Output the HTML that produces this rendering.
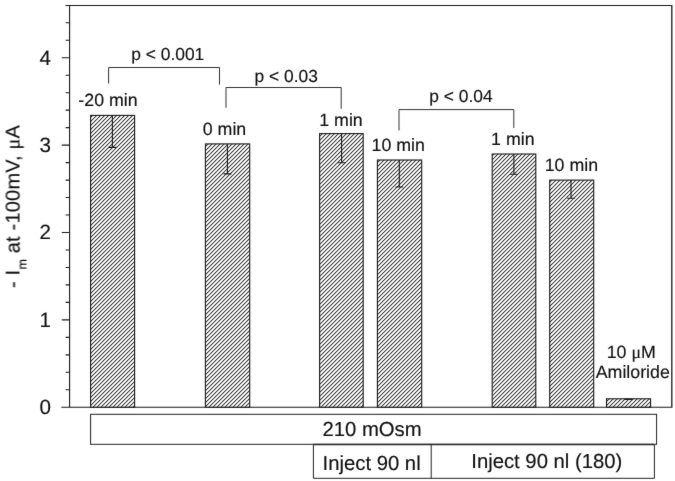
<!DOCTYPE html>
<html>
<head>
<meta charset="utf-8">
<style>
html,body{margin:0;padding:0;background:#fff;}
body{width:675px;height:481px;overflow:hidden;}
svg{display:block;filter:grayscale(1);}
text{text-rendering:geometricPrecision;font-family:"Liberation Sans",sans-serif;fill:#111;stroke:#111;stroke-width:0.15px;}
.t20{font-size:20px;}
.t18{font-size:17.8px;}
.ax{stroke:#1a1a1a;stroke-width:1.1;fill:none;}
.tk{stroke:#1a1a1a;stroke-width:1.1;fill:none;}
.br{stroke:#333;stroke-width:1;fill:none;}
.bar{fill:url(#h);stroke:#1a1a1a;stroke-width:1.1;}
.eb{stroke:#1a1a1a;stroke-width:1.1;fill:none;}
.bx{fill:#fff;stroke:#222;stroke-width:1;}
</style>
</head>
<body>
<svg width="675" height="481" viewBox="0 0 675 481">
<defs>
<pattern id="h" patternUnits="userSpaceOnUse" width="4" height="4">
<rect width="4" height="4" fill="#fff"/>
<path d="M0.50,-1 L1.70,-1 L-1,1.70 L-1,0.50 Z M4.50,-1 L5.70,-1 L-1,5.70 L-1,4.50 Z M8.50,-1 L9.70,-1 L-1,9.70 L-1,8.50 Z" fill="#1a1a1a" stroke="none"/>
</pattern>
<filter id="bl" color-interpolation-filters="sRGB" x="0" y="0" width="675" height="481" filterUnits="userSpaceOnUse"><feConvolveMatrix order="3" kernelMatrix="0.012 0.05 0.012 0.05 0.752 0.05 0.012 0.05 0.012" edgeMode="duplicate" preserveAlpha="false"/></filter>
</defs>
<rect width="675" height="481" fill="#fff"/>
<g filter="url(#bl)">

<!-- axes frame -->
<path class="ax" d="M69.6,5.5 V407.3 M61.3,407.3 H672.3 M65.5,5.5 H672.3"/>
<path d="M671.8,407.3 V5.5" stroke="#2a2a2a" stroke-width="1.4" fill="none"/>
<!-- major ticks -->
<path class="tk" d="M61.8,57.7 H69.7 M61.8,145.1 H69.7 M61.8,232.5 H69.7 M61.8,319.9 H69.7"/>
<!-- minor ticks -->
<path class="tk" d="M65.6,22.7 H69.7 M65.6,40.2 H69.7 M65.6,75.2 H69.7 M65.6,92.7 H69.7 M65.6,110.1 H69.7 M65.6,127.6 H69.7 M65.6,162.6 H69.7 M65.6,180.1 H69.7 M65.6,197.5 H69.7 M65.6,215 H69.7 M65.6,250 H69.7 M65.6,267.5 H69.7 M65.6,284.9 H69.7 M65.6,302.4 H69.7 M65.6,337.4 H69.7 M65.6,354.9 H69.7 M65.6,372.3 H69.7 M65.6,389.8 H69.7"/>

<!-- tick labels -->
<g class="t20" style="font-size:20.6px;stroke-width:0.4px" text-anchor="middle">
<text x="45.3" y="64.5">4</text>
<text x="45.3" y="151.9">3</text>
<text x="45.3" y="239.3">2</text>
<text x="45.3" y="326.6">1</text>
<text x="45.3" y="414.3">0</text>
</g>

<!-- y label -->
<text class="t20" letter-spacing="0.2" transform="translate(19.5,288) rotate(-90)">- I<tspan font-size="12.5" dy="7">m</tspan><tspan dy="-7"> at -100mV, </tspan><tspan font-family="Liberation Serif">μ</tspan>A</text>

<!-- bars -->
<rect class="bar" x="90.6" y="115.4" width="44" height="291.8"/>
<rect class="bar" x="205.4" y="143.9" width="44.3" height="263.3"/>
<rect class="bar" x="319.6" y="133.6" width="43.6" height="273.6"/>
<rect class="bar" x="377.4" y="160" width="44.3" height="247.2"/>
<rect class="bar" x="492.2" y="154" width="43.6" height="253.2"/>
<rect class="bar" x="549.7" y="180.1" width="44" height="227.1"/>
<rect class="bar" x="606.5" y="398.8" width="44.1" height="8.4"/>

<!-- error bars -->
<path class="eb" d="M112.4,115.4 V147.4 M108.6,147.4 H116.4
M227.4,143.9 V173.9 M223.6,173.9 H231.4
M341.6,133.6 V162.8 M337.7,162.8 H345.5
M399.3,160 V187 M395.4,187 H403.2
M513.9,154 V174.2 M510,174.2 H517.8
M571,180.1 V198.2 M567.1,198.2 H574.9
M624.5,399.4 H632.5"/>

<!-- brackets -->
<path class="br" d="M108.6,83.5 V67.5 H219.5 V84.6"/>
<path class="br" d="M226,107.8 V87.5 H341.2 V108.8"/>
<path class="br" d="M399,130.4 V109.6 H513.8 V128"/>

<!-- labels -->
<g class="t18" style="stroke-width:0.3px" text-anchor="middle">
<text x="167.8" y="60" font-size="17.4">p &lt; 0.001</text>
<text x="286.2" y="81.5" font-size="17.4">p &lt; 0.03</text>
<text x="461" y="102.1" font-size="17.4">p &lt; 0.04</text>
<text x="108" y="105.7">-20 min</text>
<text x="224.5" y="134.8">0 min</text>
<text x="341" y="126">1 min</text>
<text x="398.2" y="151.4">10 min</text>
<text x="512.8" y="145.3">1 min</text>
<text x="571.4" y="170.7">10 min</text>
<text x="631.2" y="358">10 <tspan font-family="Liberation Serif">μ</tspan>M</text>
<text x="632.8" y="377.6">Amiloride</text>
</g>

<!-- boxes -->
<rect class="bx" x="90.6" y="414.3" width="566" height="30"/>
<path class="bx" d="M313.4,444.3 V478.3 H654.4 V444.3 M431.2,444.3 V478.3"/>
<path d="M313.4,444.5 H654.4" stroke="#2a2a2a" stroke-width="1.3" fill="none"/>
<g class="t20" style="font-size:20.3px;stroke-width:0.3px" text-anchor="middle">
<text x="372" y="436.3">210 mOsm</text>
<text x="371.6" y="469.5">Inject 90 nl</text>
<text x="546.8" y="467.9">Inject 90 nl (180)</text>
</g>
</g>
</svg>
</body>
</html>
